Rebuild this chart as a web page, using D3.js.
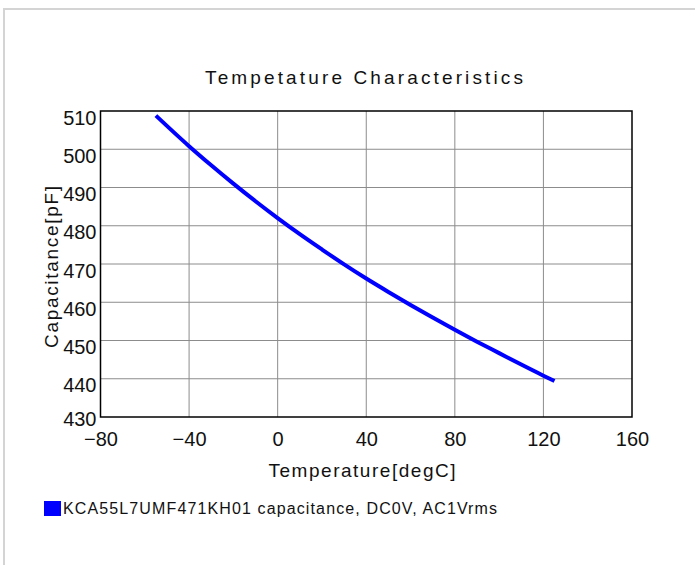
<!DOCTYPE html>
<html>
<head>
<meta charset="utf-8">
<script src="https://cdn.jsdelivr.net/npm/d3@7"></script>
<style>
  body { margin: 0; background: #fff; }
  text { font-family: "Liberation Sans Narrow", "Arial Narrow", "Liberation Sans", sans-serif; fill: #111; }
</style>
</head>
<body>
<svg id="chart"></svg>
<script>
// data
const temps = [-55, -40, -30, -20, -10, 0, 10, 20, 30, 40, 50, 60, 70, 80, 90, 100, 110, 120, 125];
const caps  = [508.8, 500.8, 495.8, 491.0, 486.4, 482.0, 477.8, 473.8, 469.9, 466.2, 462.7, 459.3, 456.0, 452.8, 449.7, 446.7, 443.7, 440.8, 439.4];
const xTicks = [-80, -40, 0, 40, 80, 120, 160];
const yTicks = [430, 440, 450, 460, 470, 480, 490, 500, 510];
const seriesName = "KCA55L7UMF471KH01 capacitance, DC0V, AC1Vrms";

const width = 695, height = 565;
const margin = { top: 111, right: 63, bottom: 148, left: 100.5 };

const svg = d3.select("#chart")
    .attr("width", width)
    .attr("height", height);

// light page frame
svg.append("rect")
    .attr("x", 4).attr("y", 9)
    .attr("width", 900).attr("height", 900)
    .attr("fill", "none")
    .attr("stroke", "#d4d4d4")
    .attr("stroke-width", 2);

const x = d3.scaleLinear()
    .domain([-80, 160])
    .range([margin.left, width - margin.right]);

const y = d3.scaleLinear()
    .domain([430, 510])
    .range([height - margin.bottom, margin.top]);

// grid
svg.append("g")
    .selectAll("line")
    .data(xTicks.slice(1, -1))
    .enter().append("line")
    .attr("x1", d => x(d)).attr("x2", d => x(d))
    .attr("y1", y(430)).attr("y2", y(510))
    .attr("stroke", "#8c8c8c").attr("stroke-width", 1);

svg.append("g")
    .selectAll("line")
    .data(yTicks.slice(1, -1))
    .enter().append("line")
    .attr("x1", x(-80)).attr("x2", x(160))
    .attr("y1", d => y(d)).attr("y2", d => y(d))
    .attr("stroke", "#8c8c8c").attr("stroke-width", 1);

// plot frame
svg.append("rect")
    .attr("x", x(-80)).attr("y", y(510))
    .attr("width", x(160) - x(-80))
    .attr("height", y(430) - y(510))
    .attr("fill", "none")
    .attr("stroke", "#000")
    .attr("stroke-width", 1.5);

// axes (labels only, ticks hidden)
const xAxis = svg.append("g")
    .attr("transform", `translate(0,${y(430)})`)
    .call(d3.axisBottom(x).tickValues(xTicks).tickSize(0).tickPadding(15).tickFormat(d => d < 0 ? "\u2212" + Math.abs(d) : d));
xAxis.select(".domain").remove();
xAxis.selectAll("text")
    .attr("font-size", 20)
    .attr("font-family", "Liberation Sans Narrow, Arial Narrow, Liberation Sans, sans-serif")
    .attr("fill", "#111");

const yAxis = svg.append("g")
    .attr("transform", `translate(${x(-80)},0)`)
    .call(d3.axisLeft(y).tickValues(yTicks).tickSize(0).tickPadding(4));
yAxis.select(".domain").remove();
yAxis.selectAll("text")
    .attr("font-size", 20)
    .attr("dy", d => d === 430 ? "0.42em" : "0.65em")
    .attr("font-family", "Liberation Sans Narrow, Arial Narrow, Liberation Sans, sans-serif")
    .attr("fill", "#111");

// curve
const line = d3.line()
    .x((d, i) => x(temps[i]))
    .y(d => y(d))
    .curve(d3.curveMonotoneX);

svg.append("path")
    .datum(caps)
    .attr("fill", "none")
    .attr("stroke", "#0000ff")
    .attr("stroke-width", 4)
    .attr("d", line);

// title
svg.append("text")
    .attr("x", 364).attr("y", 84)
    .attr("text-anchor", "middle")
    .attr("font-size", 19)
    .attr("textLength", 318)
    .attr("lengthAdjust", "spacing")
    .text("Tempetature  Characteristics");

// axis titles
svg.append("text")
    .attr("x", 362).attr("y", 477)
    .attr("text-anchor", "middle")
    .attr("font-size", 19)
    .attr("textLength", 187)
    .attr("lengthAdjust", "spacing")
    .text("Temperature[degC]");

svg.append("text")
    .attr("transform", `translate(58,267) rotate(-90)`)
    .attr("text-anchor", "middle")
    .attr("font-size", 19)
    .attr("textLength", 162)
    .attr("lengthAdjust", "spacing")
    .text("Capacitance[pF]");

// legend
svg.append("rect")
    .attr("x", 44).attr("y", 501)
    .attr("width", 17).attr("height", 15)
    .attr("fill", "#0000ff");

svg.append("text")
    .attr("x", 63).attr("y", 514)
    .attr("font-size", 16)
    .attr("textLength", 434)
    .attr("lengthAdjust", "spacing")
    .text(seriesName);
</script>
</body>
</html>
